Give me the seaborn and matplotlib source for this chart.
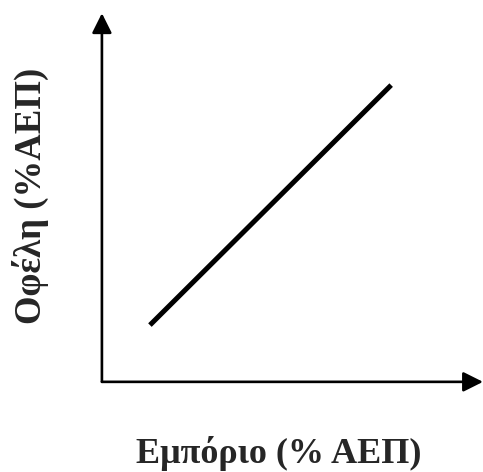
import matplotlib
matplotlib.use("Agg")
import matplotlib.pyplot as plt
import seaborn as sns
import pandas as pd

# data (axes run 0..10 in both directions)
trade = [1.26, 7.59]
benefit = [1.54, 8.05]
x_label = "Εμπόριο (% ΑΕΠ)"
y_label = "Οφέλη (%ΑΕΠ)"

sns.set_style("white")
plt.rcParams['font.family'] = ['Liberation Serif', 'DejaVu Serif']

df = pd.DataFrame({"trade": trade, "benefit": benefit})

fig = plt.figure(figsize=(4.83, 4.72), dpi=100)
ax = fig.add_axes([0.211, 0.191, 0.789, 0.781])
sns.lineplot(data=df, x="trade", y="benefit", color="black", linewidth=3.6,
             solid_capstyle="butt", ax=ax)
ax.set_xlim(0, 10)
ax.set_ylim(0, 10)
for s in ax.spines.values():
    s.set_visible(False)
ax.set_xticks([])
ax.set_yticks([])
ax.set_xlabel("")
ax.set_ylabel("")

# axis arrows
arrow = dict(arrowstyle="-|>,head_length=0.6,head_width=0.3", color="black",
             lw=1.9, mutation_scale=20, shrinkA=0, shrinkB=0)
ax.annotate("", xy=(0, 1), xytext=(0, 0), xycoords="axes fraction", arrowprops=arrow)
ax.annotate("", xy=(1, 0), xytext=(0, 0), xycoords="axes fraction", arrowprops=arrow)

fig.text(0.578, 0.020, x_label, ha="center", va="baseline", fontsize=26,
         fontweight="bold")
fig.text(0.085, 0.584, y_label, ha="center", va="baseline", fontsize=26.5,
         fontweight="bold", rotation=90, rotation_mode="anchor")

fig.savefig("out.png", dpi=100)
